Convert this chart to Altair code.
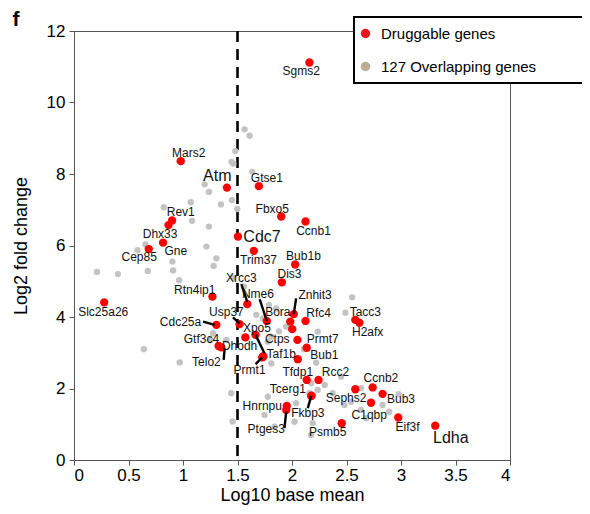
import altair as alt
import pandas as pd

# ---- Druggable genes (red) ----
red_genes = ["Sgms2", "Mars2", "Atm", "Gtse1", "Fbxo5", "Ccnb1", "Cdc7", "Rev1", "Dhx33", "Gne",
             "Cep85", "Trim37", "Bub1b", "Dis3", "Slc25a26", "Rtn4ip1", "Xrcc3", "Nme6", "Znhit3", "Bora",
             "", "Rfc4", "Cdc25a", "Usp37", "", "Dhodh", "Ctps", "Prmt7", "Gtf3c4", "Telo2",
             "Xpo5", "Taf1b", "Prmt1", "Bub1", "Tfdp1", "Rcc2", "Fkbp3", "Tcerg1", "Hnrnpu", "Ptges3",
             "Sephs2", "Ccnb2", "Bub3", "C1qbp", "Eif3f", "Psmb5", "Ldha", "Tacc3", "H2afx"]
red_x = [2.160, 0.979, 1.403, 1.696, 1.901, 2.124, 1.504, 0.900, 0.867, 0.817,
         0.686, 1.650, 2.029, 1.907, 0.277, 1.270, 1.590, 1.769, 2.016, 1.984,
         2.002, 2.124, 1.306, 1.519, 1.666, 1.572, 2.050, 2.135, 1.327, 1.352,
         1.738, 1.733, 1.727, 2.053, 2.135, 2.243, 2.176, 2.180, 1.952, 1.947,
         2.581, 2.740, 2.831, 2.725, 2.975, 2.456, 3.314, 2.581, 2.618]
red_y = [11.12, 8.36, 7.62, 7.66, 6.81, 6.67, 6.25, 6.70, 6.57, 6.08,
         5.90, 5.85, 5.47, 4.97, 4.41, 4.57, 4.36, 3.89, 4.08, 3.87,
         3.66, 3.89, 3.78, 3.80, 3.50, 3.43, 3.36, 3.14, 3.19, 3.15,
         2.90, 2.89, 2.87, 2.82, 2.24, 2.24, 1.79, 1.80, 1.51, 1.40,
         1.98, 2.03, 1.85, 1.60, 1.19, 1.03, 0.96, 3.92, 3.84]

# ---- Other overlapping genes (grey) ----
grey_x = [1.565, 1.611, 1.480, 1.445, 1.462, 1.636, 1.199, 1.238, 1.449, 1.348,
          1.498, 1.071, 0.824, 1.083, 1.238, 1.215, 1.306, 1.281, 0.656, 0.583,
          0.903, 0.211, 0.403, 0.677, 0.964, 0.641, 0.970, 0.909, 1.672, 1.733,
          1.810, 1.778, 1.947, 1.275, 1.398, 2.236, 2.490, 2.551, 1.788, 1.855,
          1.810, 2.222, 2.176, 2.236, 2.038, 2.023, 2.190, 2.176, 2.373, 2.450,
          2.481, 2.542, 2.633, 2.679, 2.633, 2.831, 2.892, 2.978, 1.748, 1.840,
          1.778, 1.443, 2.160, 1.250, 1.455, 1.462, 1.560, 1.880, 2.110, 2.300]
grey_y = [9.25, 9.07, 8.64, 8.34, 8.29, 8.06, 7.71, 7.50, 7.27, 7.15,
          7.02, 7.21, 7.07, 6.69, 6.53, 5.97, 5.64, 5.43, 6.03, 5.87,
          5.55, 5.26, 5.20, 5.29, 5.03, 3.10, 2.73, 5.30, 4.06, 3.96,
          3.45, 3.31, 3.73, 3.54, 3.36, 3.59, 4.12, 4.55, 4.34, 4.24,
          2.70, 2.72, 2.15, 1.96, 1.59, 1.07, 1.03, 0.70, 1.87, 2.33,
          1.54, 1.63, 2.01, 1.17, 1.40, 1.54, 1.35, 1.84, 1.26, 0.93,
          1.77, 1.87, 1.87, 3.35, 1.08, 5.10, 4.85, 3.60, 3.10, 2.10]

# ---- Gene name labels (data coordinates of label centres) ----
lab_text = ["Sgms2", "Mars2", "Atm", "Gtse1", "Fbxo5", "Ccnb1", "Cdc7", "Rev1", "Dhx33", "Gne",
            "Cep85", "Trim37", "Bub1b", "Dis3", "Slc25a26", "Rtn4ip1", "Xrcc3", "Nme6", "Znhit3", "Bora",
            "Rfc4", "Tacc3", "H2afx", "Cdc25a", "Usp37", "Xpo5", "Ctps", "Prmt7", "Gtf3c4", "Dhodh",
            "Taf1b", "Telo2", "Prmt1", "Bub1", "Tfdp1", "Rcc2", "Tcerg1", "Sephs2", "Ccnb2", "Bub3",
            "C1qbp", "Hnrnpu", "Fkbp3", "Ptges3", "Psmb5", "Eif3f", "Ldha"]
lab_x = [2.084, 1.053, 1.315, 1.769, 1.819, 2.197, 1.725, 0.979, 0.790, 0.934,
         0.598, 1.693, 2.105, 1.977, 0.268, 1.108, 1.535, 1.687, 2.212, 1.870,
         2.245, 2.673, 2.694, 0.977, 1.398, 1.678, 1.865, 2.282, 1.169, 1.519,
         1.901, 1.215, 1.611, 2.297, 2.053, 2.398, 1.962, 2.496, 2.816, 3.000,
         2.709, 1.727, 2.145, 1.764, 2.328, 3.060, 3.457]
lab_y = [10.88, 8.60, 7.94, 7.88, 7.01, 6.41, 6.25, 6.95, 6.32, 5.85,
         5.67, 5.59, 5.71, 5.19, 4.13, 4.76, 5.08, 4.63, 4.62, 4.15,
         4.12, 4.15, 3.59, 3.87, 4.15, 3.68, 3.38, 3.38, 3.38, 3.19,
         2.97, 2.75, 2.52, 2.94, 2.47, 2.47, 1.98, 1.73, 2.29, 1.70,
         1.26, 1.51, 1.31, 0.86, 0.79, 0.93, 0.62]
big_labels = ["Atm", "Cdc7", "Ldha"]

# ---- Leader lines (label -> point) ----
seg_x = [1.535, 1.703, 2.038, 1.184, 1.458, 1.666, 1.373, 1.666, 2.145, 1.931]
seg_y = [4.92, 4.50, 4.52, 3.87, 3.99, 3.50, 2.80, 2.68, 1.45, 0.89]
seg_x2 = [1.590, 1.769, 2.016, 1.291, 1.519, 1.748, 1.382, 1.727, 2.176, 1.947]
seg_y2 = [4.42, 3.89, 4.08, 3.78, 3.82, 2.98, 3.12, 2.87, 1.79, 1.35]

threshold = [1.5]
legend_names = ["Druggable genes", "127 Overlapping genes"]

FONT = "Liberation Sans"
RED = "#ff0000"
GREY = "#c3c3c3"

red_df = pd.DataFrame({"x": red_x, "y": red_y, "gene": red_genes, "group": legend_names[0]})
grey_df = pd.DataFrame({"x": grey_x, "y": grey_y, "gene": "", "group": legend_names[1]})
all_df = pd.concat([grey_df, red_df], ignore_index=True)
lab_df = pd.DataFrame({"x": lab_x, "y": lab_y, "t": lab_text})
lab_df["fs"] = [16 if t in big_labels else 12 for t in lab_text]
seg_df = pd.DataFrame({"x": seg_x, "y": seg_y, "x2": seg_x2, "y2": seg_y2})

xs = alt.Scale(domain=[0, 4], nice=False, zero=False)
ys = alt.Scale(domain=[0, 12], nice=False, zero=False)
X = alt.X("x:Q", scale=xs, title="Log10 base mean",
          axis=alt.Axis(values=[0, 0.5, 1, 1.5, 2, 2.5, 3, 3.5, 4], format="~g"))
Y = alt.Y("y:Q", scale=ys, title="Log2 fold change",
          axis=alt.Axis(values=list(range(0, 13))))

# hidden layer carrying the legend
legend_layer = alt.Chart(all_df).mark_point(filled=True, opacity=1, shape="circle").encode(
    x=X, y=Y,
    color=alt.Color("group:N",
                    scale=alt.Scale(domain=legend_names, range=["#e8161e", "#b8ae95"]),
                    sort=legend_names,
                    legend=alt.Legend(title=None, orient="none", legendX=284, legendY=-5,
                                      symbolType="circle", symbolSize=90, labelFont=FONT,
                                      labelFontSize=15, labelColor="#000", rowPadding=17,
                                      labelOffset=8, padding=0, symbolStrokeWidth=0)),
    size=alt.value(2),
)

rule = alt.Chart(pd.DataFrame({"x": threshold})).mark_rule(
    color="black", strokeWidth=2.6, strokeDash=[11, 7]).encode(x=alt.X("x:Q", scale=xs))

grey_pts = alt.Chart(grey_df).mark_circle(color=GREY, opacity=1, size=40).encode(x=X, y=Y)
red_pts = alt.Chart(red_df).mark_circle(color=RED, opacity=1, size=70).encode(x=X, y=Y)

segs = alt.Chart(seg_df).mark_rule(color="black", strokeWidth=2.4).encode(
    x=alt.X("x:Q", scale=xs), y=alt.Y("y:Q", scale=ys),
    x2="x2:Q", y2="y2:Q")

labels = alt.Chart(lab_df).mark_text(font=FONT, color="#111", align="center", baseline="middle").encode(
    x=alt.X("x:Q", scale=xs), y=alt.Y("y:Q", scale=ys), text="t:N",
    size=alt.Size("fs:Q", scale=None, legend=None))

legend_box = alt.Chart(pd.DataFrame({"a": [0]})).mark_rect(
    fill="white", stroke="black", strokeWidth=2).encode(
    x=alt.value(280), x2=alt.value(560), y=alt.value(-14), y2=alt.value(52))

panel = alt.Chart(pd.DataFrame({"t": ["f"]})).mark_text(
    font=FONT, fontSize=21, fontWeight="bold", align="center", baseline="middle", color="black").encode(
    x=alt.value(-58), y=alt.value(-11), text="t:N")

chart = alt.layer(legend_layer, rule, grey_pts, red_pts, segs, labels, legend_box, panel).properties(
    width=436, height=429,
    autosize=alt.AutoSizeParams(type="none"),
    padding={"left": 66, "top": 23, "right": 72, "bottom": 47},
).configure_view(stroke="#555", strokeWidth=1).configure_axis(
    grid=False, domainColor="#555", tickColor="#555", tickSize=5, domainWidth=1,
    labelFont=FONT, titleFont=FONT, labelFontSize=17, titleFontSize=18,
    labelColor="#000", titleColor="#000", titleFontWeight="normal", labelPadding=4
).configure_axisY(titlePadding=16).configure_axisX(titlePadding=3, labelPadding=2)

chart.save("out.html", embed_options={"renderer": "svg", "actions": False})
